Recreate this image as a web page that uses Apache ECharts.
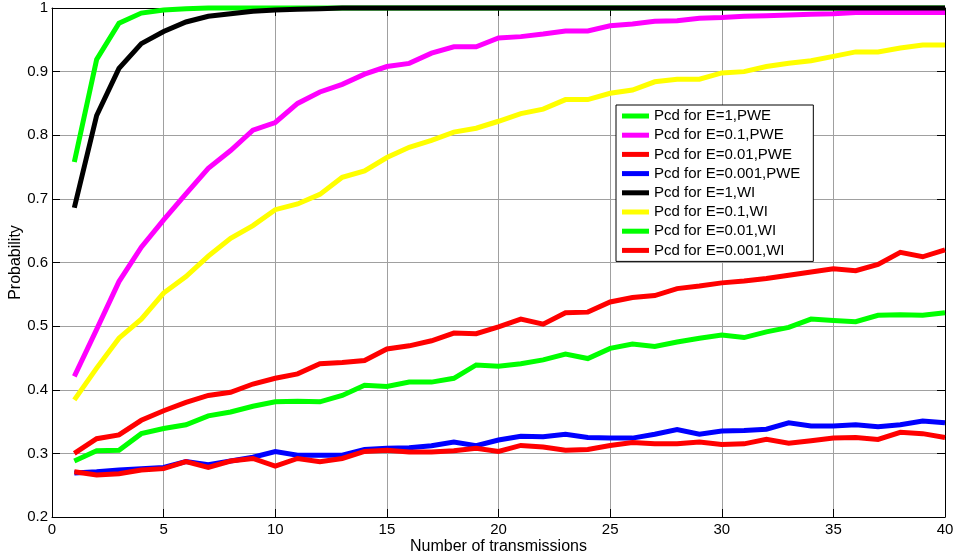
<!DOCTYPE html>
<html>
<head>
<meta charset="utf-8">
<script src="https://cdn.jsdelivr.net/npm/echarts@6/dist/echarts.min.js"></script>
<style>
  html, body { margin: 0; padding: 0; background: #fff; }
  #chart { width: 954px; height: 558px; }
</style>
</head>
<body>
<div id="chart"></div>
<script>
// Number of transmissions (x values)
const transmissions = Array.from({ length: 40 }, (_, i) => i + 1);

// Probability of correct detection, PWE scheme
const pwe_E1 = [0.758, 0.919, 0.976, 0.992, 0.997, 0.999, 1, 1, 1, 1,
  1, 1, 1, 1, 1, 1, 1, 1, 1, 1,
  1, 1, 1, 1, 1, 1, 1, 1, 1, 1,
  1, 1, 1, 1, 1, 1, 1, 1, 1, 1];
const pwe_E01 = [0.421, 0.495, 0.570, 0.624, 0.667, 0.708, 0.748, 0.776, 0.808, 0.820,
  0.850, 0.868, 0.880, 0.896, 0.908, 0.913, 0.929, 0.939, 0.939, 0.953,
  0.955, 0.959, 0.964, 0.964, 0.972, 0.975, 0.979, 0.980, 0.984, 0.985,
  0.987, 0.988, 0.989, 0.990, 0.991, 0.993, 0.993, 0.993, 0.993, 0.993];
const pwe_E001 = [0.300, 0.323, 0.329, 0.352, 0.367, 0.380, 0.391, 0.396, 0.409, 0.418,
  0.425, 0.441, 0.443, 0.446, 0.464, 0.469, 0.477, 0.489, 0.488, 0.499,
  0.511, 0.503, 0.521, 0.522, 0.538, 0.545, 0.548, 0.559, 0.563, 0.568,
  0.571, 0.575, 0.580, 0.585, 0.590, 0.587, 0.597, 0.616, 0.609, 0.620];
const pwe_E0001 = [0.269, 0.271, 0.274, 0.276, 0.278, 0.287, 0.282, 0.288, 0.294, 0.303,
  0.297, 0.297, 0.297, 0.306, 0.308, 0.309, 0.312, 0.318, 0.312, 0.321,
  0.327, 0.326, 0.330, 0.325, 0.324, 0.324, 0.330, 0.3375, 0.330, 0.335,
  0.336, 0.338, 0.348, 0.343, 0.343, 0.345, 0.342, 0.345, 0.351, 0.348];

// Probability of correct detection, WI scheme
const wi_E1 = [0.686, 0.831, 0.905, 0.944, 0.963, 0.978, 0.987, 0.991, 0.995, 0.997,
  0.998, 0.999, 1, 1, 1, 1, 1, 1, 1, 1,
  1, 1, 1, 1, 1, 1, 1, 1, 1, 1,
  1, 1, 1, 1, 1, 1, 1, 1, 1, 1];
const wi_E01 = [0.384, 0.434, 0.481, 0.511, 0.552, 0.578, 0.610, 0.638, 0.658, 0.683,
  0.692, 0.707, 0.734, 0.744, 0.765, 0.781, 0.792, 0.805, 0.811, 0.822,
  0.834, 0.841, 0.856, 0.856, 0.866, 0.871, 0.884, 0.888, 0.888, 0.898,
  0.900, 0.908, 0.913, 0.917, 0.924, 0.931, 0.931, 0.937, 0.942, 0.942];
const wi_E001 = [0.288, 0.304, 0.305, 0.331, 0.339, 0.345, 0.359, 0.365, 0.374, 0.381,
  0.382, 0.381, 0.391, 0.407, 0.405, 0.412, 0.412, 0.418, 0.439, 0.437,
  0.441, 0.447, 0.456, 0.449, 0.465, 0.472, 0.468, 0.475, 0.481, 0.486,
  0.482, 0.491, 0.498, 0.511, 0.509, 0.507, 0.517, 0.518, 0.517, 0.521];
const wi_E0001 = [0.271, 0.266, 0.268, 0.274, 0.276, 0.287, 0.278, 0.288, 0.292, 0.280,
  0.292, 0.287, 0.292, 0.303, 0.305, 0.302, 0.302, 0.304, 0.308, 0.303,
  0.3125, 0.310, 0.305, 0.306, 0.3125, 0.317, 0.315, 0.315, 0.318, 0.314,
  0.315, 0.322, 0.316, 0.320, 0.324, 0.325, 0.322, 0.333, 0.331, 0.325];

const seriesNames = [
  'Pcd for E=1,PWE', 'Pcd for E=0.1,PWE', 'Pcd for E=0.01,PWE', 'Pcd for E=0.001,PWE',
  'Pcd for E=1,WI', 'Pcd for E=0.1,WI', 'Pcd for E=0.01,WI', 'Pcd for E=0.001,WI'
];
const seriesData = [pwe_E1, pwe_E01, pwe_E001, pwe_E0001, wi_E1, wi_E01, wi_E001, wi_E0001];
const seriesColors = ['#00ff00', '#ff00ff', '#ff0000', '#0000ff', '#000000', '#ffff00', '#00ff00', '#ff0000'];

const xTicks = { min: 0, max: 40, interval: 5 };
const yTicks = { min: 0.2, max: 1, interval: 0.1 };

const FONT = '"Liberation Sans", Arial, sans-serif';

const chart = echarts.init(document.getElementById('chart'), null, { renderer: 'canvas' });

const gridLine = { show: true, lineStyle: { color: '#a0a0a0', width: 1 } };
const frameLine = { show: true, onZero: false, lineStyle: { color: '#000', width: 1 } };
const innerTick = { show: true, inside: true, length: 8, lineStyle: { color: '#000', width: 1 } };

chart.setOption({
  animation: false,
  backgroundColor: '#fff',
  // fixed plot rectangle; labels may sit outside it
  grid: { left: 52, right: 9, top: 8, bottom: 41, containLabel: false, outerBoundsMode: 'none' },
  legend: {
    orient: 'vertical',
    left: 616,
    top: 105,
    icon: 'rect',
    itemWidth: 27,
    itemHeight: 5,
    itemGap: 2.2,
    padding: [2.5, 13, 2.5, 6],
    backgroundColor: '#fff',
    borderColor: '#000',
    borderWidth: 1,
    borderRadius: 0,
    textStyle: { fontFamily: FONT, fontSize: 15, color: '#000', lineHeight: 17 },
    data: seriesNames
  },
  xAxis: [
    {
      type: 'value', position: 'bottom', ...xTicks,
      name: 'Number of transmissions', nameLocation: 'middle', nameGap: 22,
      nameMoveOverlap: false,
      nameTextStyle: { fontFamily: FONT, fontSize: 16, color: '#000' },
      axisLine: frameLine, axisTick: innerTick, splitLine: gridLine,
      axisLabel: { fontFamily: FONT, fontSize: 15, color: '#000', margin: 5 }
    },
    {
      type: 'value', position: 'top', ...xTicks,
      axisLine: frameLine, axisTick: innerTick, splitLine: { show: false },
      axisLabel: { show: false }
    }
  ],
  yAxis: [
    {
      type: 'value', position: 'left', ...yTicks,
      name: 'Probability', nameLocation: 'middle', nameGap: 28,
      nameMoveOverlap: false,
      nameTextStyle: { fontFamily: FONT, fontSize: 16, color: '#000' },
      axisLine: frameLine, axisTick: innerTick, splitLine: gridLine,
      axisLabel: {
        fontFamily: FONT, fontSize: 15, color: '#000', margin: 4,
        formatter: v => String(+v.toFixed(1))
      }
    },
    {
      type: 'value', position: 'right', ...yTicks,
      axisLine: frameLine, axisTick: innerTick, splitLine: { show: false },
      axisLabel: { show: false }
    }
  ],
  series: seriesNames.map((name, i) => ({
    name,
    type: 'line',
    xAxisIndex: 0,
    yAxisIndex: 0,
    data: transmissions.map((n, j) => [n, seriesData[i][j]]),
    showSymbol: false,
    symbol: 'none',
    clip: false,
    color: seriesColors[i],
    lineStyle: { color: seriesColors[i], width: 5, join: 'miter' },
    z: 2 + i * 0.01,
    zlevel: 0
  }))
});
</script>
</body>
</html>
